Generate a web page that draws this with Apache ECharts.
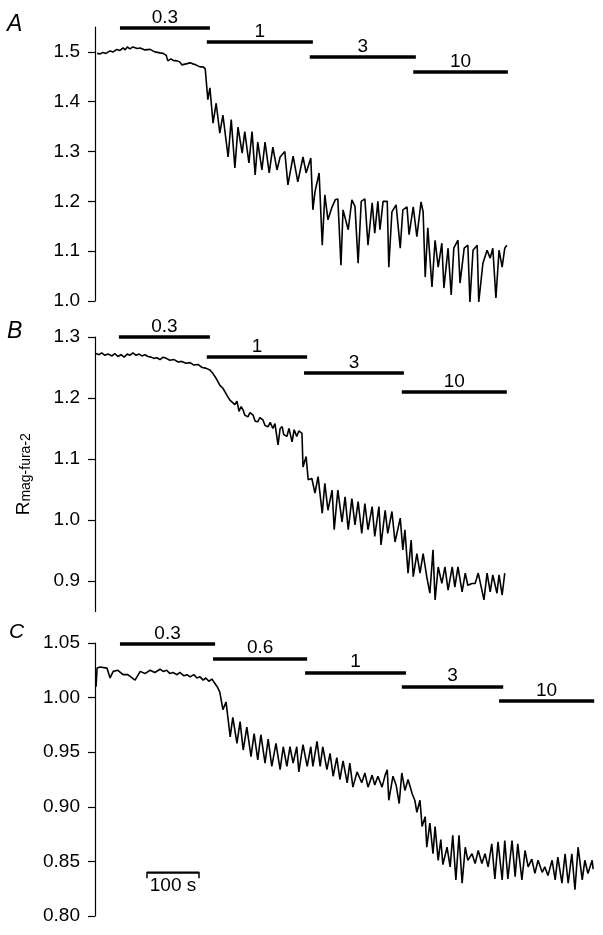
<!DOCTYPE html>
<html>
<head>
<meta charset="utf-8">
<script src="https://cdn.jsdelivr.net/npm/echarts@6/dist/echarts.min.js"></script>
<style>
html,body{margin:0;padding:0;background:#fff;}
#chart{width:603px;height:935px;}
</style>
</head>
<body>
<div id="chart"></div>
<script>
// ---- data (time in s, ratio values) ----
const panelLetters = ['A', 'B', 'C'];

const traceA = [[4,1.497],[10,1.496],[15,1.499],[21,1.497],[29,1.502],[35,1.500],[42,1.505],[48,1.503],[54,1.508],[58,1.504],[62,1.510],[67,1.506],[73,1.510],[81,1.507],[87,1.508],[96,1.504],[106,1.505],[115,1.500],[125,1.498],[131,1.497],[137,1.493],[140,1.482],[146,1.486],[150,1.483],[158,1.482],[163,1.480],[167,1.474],[175,1.476],[183,1.478],[188,1.476],[194,1.474],[202,1.470],[208,1.470],[212,1.466],[215,1.468],
[217,1.404],[221,1.428],[227,1.357],[233,1.397],[240,1.337],[246,1.373],[256,1.289],[262,1.364],[269,1.267],[275,1.349],[283,1.297],[288,1.340],[296,1.277],[302,1.340],[308,1.253],[313,1.319],[321,1.263],[327,1.319],[335,1.257],[342,1.309],[350,1.263],[356,1.289],[365,1.300],[371,1.233],[381,1.291],[390,1.239],[400,1.289],[406,1.257],[415,1.287],
[419,1.183],[423,1.219],[431,1.257],[437,1.112],[442,1.213],[448,1.163],[456,1.189],[462,1.203],[467,1.205],[473,1.072],[477,1.183],[487,1.143],[494,1.203],[500,1.190],[506,1.076],[512,1.200],[519,1.205],[525,1.112],[533,1.197],[538,1.136],[544,1.200],[548,1.143],[554,1.200],[562,1.200],[565,1.068],[571,1.179],[579,1.193],[587,1.106],[592,1.183],[600,1.189],[604,1.133],[612,1.189],[619,1.129],[627,1.199],[631,1.179],
[635,1.048],[640,1.147],[648,1.028],[654,1.122],[660,1.068],[667,1.116],[671,1.026],[679,1.106],[685,1.012],[690,1.106],[698,1.122],[702,1.036],[710,1.106],[717,1.112],[721,0.998],[727,1.102],[735,1.112],[738,0.998],[746,1.076],[754,1.102],[760,1.086],[765,1.106],[771,1.006],[777,1.102],[783,1.068],[788,1.106],[792,1.112]];

const traceB = [[2,1.273],[8,1.271],[13,1.274],[19,1.270],[25,1.272],[33,1.269],[38,1.273],[44,1.268],[50,1.271],[56,1.267],[62,1.272],[67,1.270],[73,1.274],[79,1.270],[85,1.272],[90,1.269],[96,1.271],[102,1.268],[108,1.267],[113,1.265],[119,1.266],[125,1.263],[131,1.267],[137,1.265],[144,1.262],[152,1.263],[160,1.259],[167,1.260],[175,1.257],[183,1.258],[190,1.254],[198,1.255],[206,1.250],[213,1.249],[221,1.246],[227,1.240],[233,1.232],[240,1.221],[246,1.216],[250,1.210],[256,1.201],[260,1.196],[263,1.198],
[269,1.189],[273,1.195],[277,1.178],[281,1.186],[285,1.180],[288,1.172],[294,1.169],[298,1.176],[304,1.172],[308,1.162],[313,1.161],[317,1.168],[323,1.164],[327,1.155],[333,1.153],[337,1.160],[342,1.150],[346,1.158],[352,1.123],[356,1.150],[360,1.153],[363,1.140],[369,1.137],[373,1.150],[379,1.128],[383,1.148],[388,1.137],[392,1.146],[398,1.142],
[400,1.087],[406,1.104],[410,1.066],[417,1.068],[423,1.044],[429,1.071],[437,1.011],[442,1.060],[448,1.016],[456,1.049],[460,0.984],[467,1.049],[475,0.997],[481,1.038],[487,0.984],[494,1.035],[500,0.992],[506,1.030],[513,0.978],[519,1.027],[525,0.984],[533,1.022],[538,0.973],[546,1.022],[550,0.959],[558,1.016],[563,0.978],[571,1.014],[577,0.964],[587,1.003],
[592,0.951],[596,0.984],[602,0.913],[608,0.967],[612,0.907],[619,0.945],[625,0.913],[631,0.945],[638,0.907],[644,0.880],[650,0.951],[654,0.869],[660,0.923],[667,0.896],[673,0.923],[679,0.885],[687,0.923],[692,0.890],[698,0.923],[706,0.882],[712,0.913],[717,0.893],[725,0.896],[731,0.896],[737,0.913],[744,0.885],[748,0.869],[754,0.913],[760,0.882],[765,0.910],[773,0.880],[777,0.910],[783,0.877],[788,0.913]];

const traceC = [[2,1.010],[4,1.027],[10,1.028],[23,1.027],[29,1.018],[35,1.024],[44,1.025],[54,1.021],[63,1.021],[77,1.016],[87,1.024],[96,1.022],[106,1.025],[115,1.023],[125,1.026],[131,1.024],[138,1.025],[144,1.022],[150,1.023],[158,1.021],[163,1.023],[171,1.020],[177,1.021],[183,1.019],[190,1.021],[196,1.018],[202,1.019],[208,1.016],[213,1.018],[219,1.015],[225,1.017],[229,1.014],[235,1.010],[240,1.005],[246,0.989],[252,0.996],[260,0.964],[265,0.982],[273,0.958],[279,0.978],[285,0.952],[292,0.973],[300,0.946],[306,0.967],[313,0.943],[319,0.966],[327,0.940],[333,0.962],[340,0.937],[348,0.958],[356,0.934],[362,0.955],[369,0.937],[375,0.955],[381,0.940],[388,0.955],[392,0.932],[400,0.957],[408,0.937],
[415,0.955],[419,0.937],[427,0.960],[433,0.937],[438,0.955],[446,0.934],[452,0.949],[458,0.928],[465,0.945],[471,0.925],[477,0.942],[485,0.922],[490,0.940],[496,0.918],[504,0.932],[513,0.922],[519,0.931],[525,0.918],[533,0.929],[538,0.920],[544,0.928],[552,0.918],[558,0.929],[562,0.934],[565,0.906],[573,0.928],[579,0.920],[585,0.903],[590,0.931],[596,0.915],[602,0.925],
[610,0.912],[615,0.906],[619,0.895],[625,0.906],[629,0.882],[635,0.891],[638,0.863],[644,0.885],[650,0.857],[654,0.882],[660,0.851],[665,0.870],[669,0.847],[677,0.863],[683,0.845],[688,0.874],[694,0.833],[700,0.874],[706,0.830],[712,0.863],[717,0.851],[725,0.857],[731,0.848],[737,0.860],[744,0.848],[750,0.857],[756,0.845],[763,0.866],[769,0.834],[775,0.868],[783,0.833],[788,0.869],[794,0.834],[802,0.869],[808,0.836],[813,0.866],[821,0.833],[827,0.860],[833,0.845],[840,0.852],[846,0.839],[852,0.851],[860,0.840],[865,0.845],[871,0.837],[879,0.851],[885,0.833],[890,0.854],[898,0.830],[904,0.857],[910,0.830],[917,0.857],[923,0.824],[929,0.863],[937,0.833],[942,0.851],[948,0.839],[956,0.851],[958,0.843]];

// concentration bars: [label, start s, end s, level]
const barsA = [['0.3',48,221,1.548],['1',215,419,1.520],['3',413,617,1.490],['10',612,794,1.460]];
const barsB = [['0.3',46,221,1.300],['1',215,408,1.267],['3',402,594,1.241],['10',590,792,1.210]];
const barsC = [['0.3',48,231,1.049],['0.6',227,408,1.036],['1',404,598,1.023],['3',590,785,1.010],['10',777,960,0.997]];

// y axes
const ticksA = [1.0,1.1,1.2,1.3,1.4,1.5];
const ticksB = [0.9,1.0,1.1,1.2,1.3];
const ticksC = [0.80,0.85,0.90,0.95,1.00,1.05];
const rangeA = [1.0, 1.55];
const rangeB = [0.85, 1.30];
const rangeC = [0.80, 1.05];

// time scale bar (panel C)
const scaleBar = {label:'100 s', start:100, end:200, level:0.840, tick:0.0055};

const xMax = 960;
const FONT = 'Liberation Sans, Arial, Helvetica, sans-serif';

const chart = echarts.init(document.getElementById('chart'), null, {renderer:'canvas'});

const grids = [
  {left:95, top:27, width:499.2, height:274},
  {left:95, top:337, width:499.2, height:274.5},
  {left:95, top:643, width:499.2, height:273}
];

function yAxis(i, range, ticks, dec, extra){
  return Object.assign({
    gridIndex:i, type:'value', min:range[0], max:range[1],
    axisLine:{show:true, onZero:false, lineStyle:{color:'#000', width:1.2}},
    axisTick:{show:true, inside:false, length:7, customValues:ticks, lineStyle:{color:'#000', width:1.2}},
    axisLabel:{show:true, customValues:ticks, margin:15, fontSize:19, fontFamily:FONT, color:'#000',
      formatter:(v)=>Number(v).toFixed(dec)},
    splitLine:{show:false}
  }, extra||{});
}

function traceSeries(i, data, bars){
  return {
    type:'line', xAxisIndex:i, yAxisIndex:i, data:data, showSymbol:false, symbol:'none',
    clip:false, animation:false,
    lineStyle:{color:'#000', width:1.6},
    markLine:{
      silent:true, symbol:'none', animation:false,
      lineStyle:{color:'#000', width:3.5, type:'solid'},
      label:{show:true, position:'middle', formatter:(p)=>p.name, fontSize:19, fontFamily:FONT, color:'#000', distance:1},
      data: bars.map(b=>[{name:b[0], coord:[b[1], b[3]]},{coord:[b[2], b[3]]}])
    }
  };
}

const option = {
  backgroundColor:'#fff',
  animation:false,
  grid:grids,
  xAxis:[0,1,2].map(i=>({gridIndex:i, type:'value', min:0, max:xMax, show:false})),
  yAxis:[
    yAxis(0, rangeA, ticksA, 1),
    yAxis(1, rangeB, ticksB, 1, {
      name:'{r|R}{s|mag-fura-2}', nameLocation:'middle', nameRotate:90, nameGap:62,
      nameTextStyle:{color:'#000', fontFamily:FONT, rich:{
        r:{fontSize:19, fontFamily:FONT, color:'#000', lineHeight:19, verticalAlign:'top'},
        s:{fontSize:14, fontFamily:FONT, color:'#000', lineHeight:14, verticalAlign:'bottom', padding:[10,0,0,0]}
      }}
    }),
    yAxis(2, rangeC, ticksC, 2)
  ],
  series:[
    traceSeries(0, traceA, barsA),
    traceSeries(1, traceB, barsB),
    traceSeries(2, traceC, barsC),
    {
      type:'line', xAxisIndex:2, yAxisIndex:2, showSymbol:false, symbol:'none', clip:false, animation:false,
      lineStyle:{color:'#000', width:1.5},
      data:[[scaleBar.start, scaleBar.level - scaleBar.tick],[scaleBar.start, scaleBar.level],[scaleBar.end, scaleBar.level],[scaleBar.end, scaleBar.level - scaleBar.tick]],
      markLine:{
        silent:true, symbol:'none', animation:false,
        lineStyle:{color:'#000', width:1.5, type:'solid'},
        label:{show:true, position:'insideMiddleBottom', formatter:(p)=>p.name, fontSize:19, fontFamily:FONT, color:'#000', distance:4},
        data:[[{name:scaleBar.label, coord:[scaleBar.start, scaleBar.level]},{coord:[scaleBar.end, scaleBar.level]}]]
      }
    }
  ],
  graphic:[
    {type:'text', left:7, top:13, style:{text:panelLetters[0], font:'italic 23px '+FONT, fill:'#000'}},
    {type:'text', left:7, top:320, style:{text:panelLetters[1], font:'italic 23px '+FONT, fill:'#000'}},
    {type:'text', left:9, top:622, style:{text:panelLetters[2], font:'italic 21px '+FONT, fill:'#000'}}
  ]
};
chart.setOption(option);
</script>
</body>
</html>
